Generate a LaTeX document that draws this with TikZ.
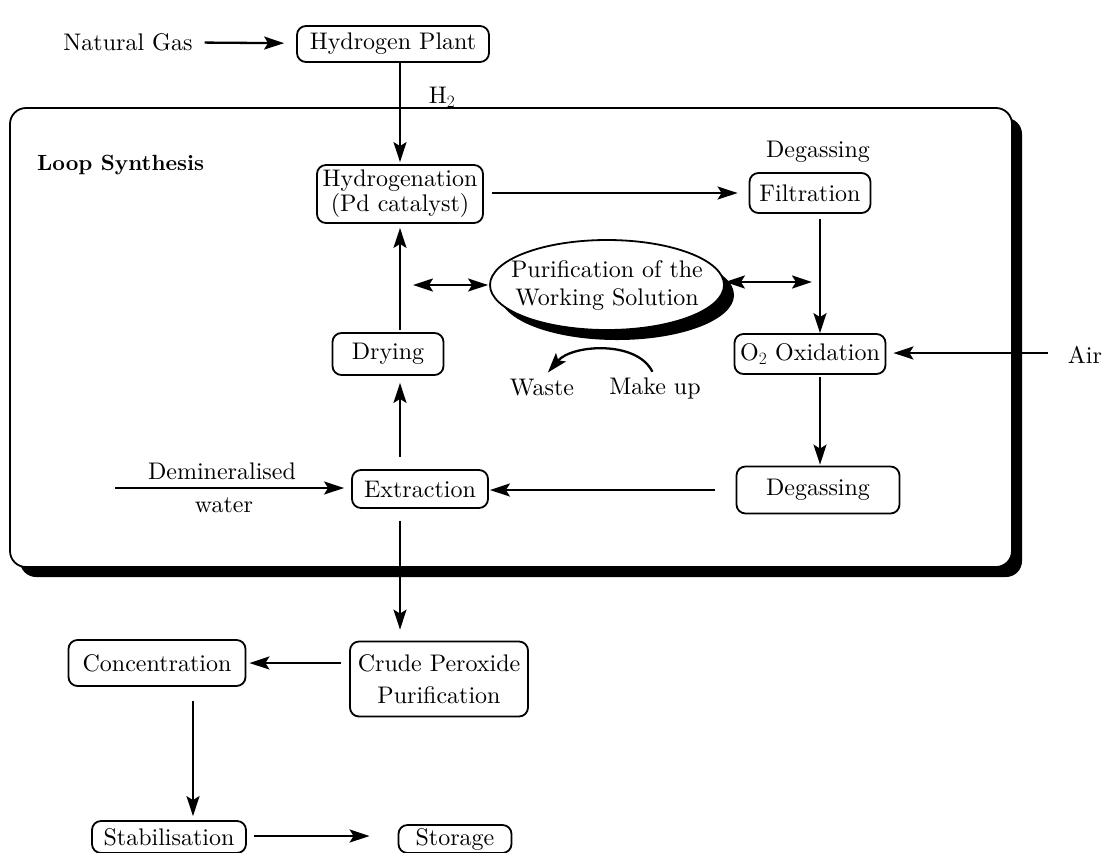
\documentclass[tikz,border=0pt]{standalone}
\usepackage{fontspec}
\setmainfont{lmroman10-regular}[Extension=.otf, BoldFont=lmroman10-bold, ItalicFont=lmroman10-italic]
\usetikzlibrary{arrows.meta,shapes.geometric}
\begin{document}
\begin{tikzpicture}[x=1pt,y=-1pt,
  every node/.style={font=\fontsize{24}{25}\selectfont, inner sep=0pt},
  box/.style={draw, line width=1.8pt, rounded corners=9pt, align=center},
  txt/.style={align=center},
  tip/.tip={Stealth[length=20pt,width=13pt,inset=4pt]},
  arr/.style={line width=2.3pt, -tip},
  dbl/.style={line width=2.3pt, tip-tip},
]
\useasboundingbox (0,0) rectangle (1115,852);
\clip (0,0) rectangle (1115,852);

% hydrogen label sits under the frame edge
\node[txt] (h2) at (442,97) {H$_2$};

% loop frame with drop shadow
\fill[rounded corners=16pt] (20,118) rectangle (1022,577);
\draw[line width=1.8pt, fill=white, rounded corners=16pt] (10,108) rectangle (1012,567);
\node[anchor=west, font=\fontsize{22}{24}\selectfont\bfseries] (loop) at (37,165) {Loop Synthesis};

% purification ellipse with shadow
\fill (617,295) ellipse [x radius=117pt, y radius=45pt];
\node[draw, ellipse, fill=white, line width=1.8pt, minimum width=234pt, minimum height=90pt] (purif) at (607,285) {};
\node[txt, font=\fontsize{24}{28}\selectfont] (puriftext) at (607,286) {Purification of the\\Working Solution};

% process boxes
\node[box, minimum width=192pt, minimum height=36pt] (hp) at (393,44) {Hydrogen Plant};
\node[box, minimum width=166pt, minimum height=58pt] (hyd) at (400,194) {Hydrogenation\\(Pd catalyst)};
\node[box, minimum width=121pt, minimum height=40pt] (filt) at (810,193) {Filtration};
\node[box, minimum width=111pt, minimum height=42pt] (dry) at (388,354) {Drying};
\node[box, minimum width=151pt, minimum height=40pt] (oxi) at (810,354) {O$_2$ Oxidation};
\node[box, minimum width=163pt, minimum height=47pt] (deg) at (818,490) {Degassing};
\node[box, minimum width=136pt, minimum height=38pt] (ext) at (420,489) {Extraction};
\node[box, font=\fontsize{24}{32}\selectfont, minimum width=178pt, minimum height=75pt] (crude) at (439,679) {Crude Peroxide\\Purification};
\node[box, minimum width=177pt, minimum height=46pt] (conc) at (157,663) {Concentration};
\node[box, minimum width=154pt, minimum height=32pt] (stab) at (169,837) {Stabilisation};
\node[box, minimum width=113pt, minimum height=28pt] (stor) at (455,839) {Storage};

% free labels
\node[txt] (ng) at (128,42) {Natural Gas};
\node[txt] (degl) at (818,152) {Degassing};
\node[txt] (air) at (1085,355) {Air};
\node[txt] (dem1) at (222,471) {Demineralised};
\node[txt] (dem2) at (224,505) {water};
\node[txt] (waste) at (542,388) {Waste};
\node[txt] (makeup) at (655,388) {Make up};

\coordinate (dw) at (115,488);
\coordinate (lp) at (413,285);
\coordinate (rp) at (812,282);

% connectors
\draw[arr, shorten <=12pt, shorten >=12pt] (ng) -- (hp);
\draw[arr, shorten >=2pt] (hp.south -| hyd.north) -- (hyd.north);
\draw[arr, shorten <=8pt, shorten >=11pt] (hyd.east |- filt.west) -- (filt.west);
\draw[arr, shorten <=5pt] ([xshift=10pt]filt.south) -- ([xshift=10pt]oxi.north);
\draw[arr, shorten <=2pt, shorten >=1pt] ([xshift=10pt]oxi.south) -- ([xshift=2pt]deg.north);
\draw[arr, shorten <=21pt, shorten >=1pt] (deg.west) -- (deg.west -| ext.east);
\draw[arr, shorten >=7pt] (dw) -- (dw -| ext.west);
\draw[arr, shorten <=12pt, shorten >=7pt] (ext.north -| hyd.south) -- (dry.south -| hyd.south);
\draw[arr, shorten <=2pt, shorten >=4pt] (dry.north -| hyd.south) -- (hyd.south);
\draw[arr, shorten <=12pt, shorten >=11pt] (ext.south -| hyd.south) -- (crude.north -| hyd.south);
\draw[arr, shorten <=8pt, shorten >=3pt] (crude.west |- conc.east) -- (conc.east);
\draw[arr, shorten <=14pt, shorten >=4pt] ([xshift=36pt]conc.south) -- ([xshift=24pt]stab.north);
\draw[arr, shorten <=7pt, shorten >=28pt] (stab.east |- 0,836) -- (stor.west |- 0,836);
\draw[arr, shorten <=20pt, shorten >=7pt] (air.west |- 0,353) -- (oxi.east |- 0,353);
\draw[dbl, shorten >=1pt] (lp) -- (lp -| purif.west);
\draw[dbl] (rp -| purif.east) -- (rp);
\draw[arr, shorten <=6pt, shorten >=9pt] (makeup.north) .. controls +(-18,-37) and +(30,-35) .. (waste.north);
\end{tikzpicture}
\end{document}
